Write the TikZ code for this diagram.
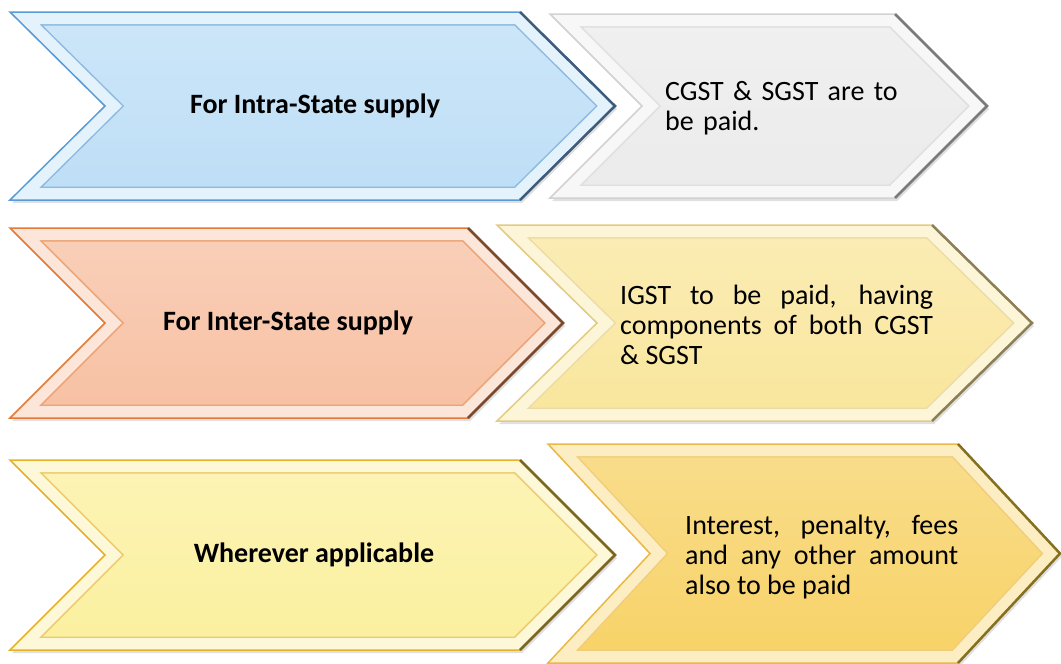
\documentclass[tikz,border=0pt]{standalone}
\usepackage{fontspec}
\setmainfont{Carlito}
\usepackage{xcolor}
\definecolor{blueface}{HTML}{BDDEF6}
\definecolor{blueedge}{HTML}{5B9BD5}
\definecolor{bluedark}{HTML}{3D5C7C}
\definecolor{greyface}{HTML}{EBEBEB}
\definecolor{greyedge}{HTML}{D2D2D2}
\definecolor{greydark}{HTML}{7A7A7A}
\definecolor{salmonface}{HTML}{F7C0A2}
\definecolor{salmonedge}{HTML}{E57A36}
\definecolor{salmondark}{HTML}{7A4A2C}
\definecolor{creamface}{HTML}{F9E69C}
\definecolor{creamedge}{HTML}{E2CC80}
\definecolor{creamdark}{HTML}{8C7F55}
\definecolor{lemonface}{HTML}{FBF09E}
\definecolor{lemonedge}{HTML}{E6B22C}
\definecolor{lemondark}{HTML}{7A6620}
\definecolor{goldface}{HTML}{F7D266}
\definecolor{goldedge}{HTML}{EAB843}
\definecolor{golddark}{HTML}{85701F}

\begin{document}
\begin{tikzpicture}[
  x=1pt,
  y=-1pt,
  every node/.style={font=\fontsize{28}{30}\selectfont, inner sep=0pt},
  headlabel/.style={font=\fontsize{28}{30}\selectfont\bfseries},
  bodytext/.style={anchor=west, align=justify,
    execute at begin node={\hyphenpenalty=10000\tolerance=10000}}
]
  \useasboundingbox (0,0) rectangle (1061,664);

  % x left / x corner / top / bottom / point depth / colours
  \foreach \xa/\xb/\yt/\yb/\dp/\cface/\cedge/\cdark in {
      10/520/12/200/95/blueface/blueedge/bluedark,
      550/895/14/198/92/greyface/greyedge/greydark,
      10/468/228/418/95/salmonface/salmonedge/salmondark,
      497/932/225/421/100/creamface/creamedge/creamdark,
      10/520/460/650/95/lemonface/lemonedge/lemondark,
      548/958/444/663/102/goldface/goldedge/golddark}
  {
    \pgfmathsetmacro\yc{(\yt+\yb)/2}
    \tikzset{chevronpath/.style={insert path={(\xa,\yt) -- (\xb,\yt)
      -- (\xb+\dp,\yc) -- (\xb,\yb) -- (\xa,\yb) -- (\xa+\dp,\yc) -- cycle}}}
    \fill[black, opacity=0.12, xshift=2pt, yshift=-3pt] [chevronpath];
    \shade[top color=\cface!75!white, bottom color=\cface] [chevronpath];
    \begin{scope}
      \clip [chevronpath];
      \draw[\cedge!70!white, line width=27pt, line join=miter] [chevronpath];
      \draw[\cface!40!white, line width=24pt, line join=miter] [chevronpath];
    \end{scope}
    \draw[\cedge, line width=1.5pt, line join=miter] [chevronpath];
    \draw[\cdark, line width=2.5pt, line join=miter]
      (\xb,\yt) -- (\xb+\dp,\yc) -- (\xb,\yb);
  }

  \node[headlabel] (intra) at (315,106) {For Intra-State supply};
  \node[headlabel] (inter) at (288,323) {For Inter-State supply};
  \node[headlabel] (wherever) at (314,555) {Wherever applicable};

  \node[bodytext, text width=235pt, align=left] (intrapay) at (665,108)
    {CGST \& SGST are to\\be paid.};
  \node[bodytext, text width=313pt] (interpay) at (620,325)
    {IGST to be paid, having\linebreak components of both CGST\linebreak \& SGST};
  \node[bodytext, text width=273pt] (otherpay) at (685,557)
    {Interest, penalty, fees\linebreak and any other amount\linebreak also to be paid};
\end{tikzpicture}
\end{document}
